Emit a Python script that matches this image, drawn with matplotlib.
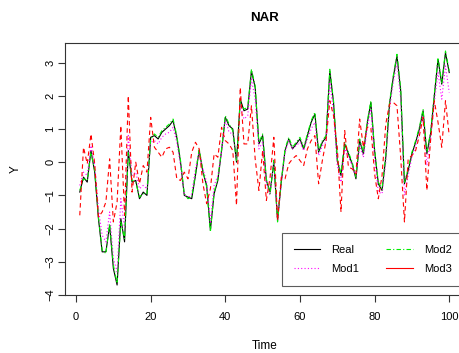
import matplotlib
matplotlib.use("Agg")
import matplotlib.pyplot as plt
from matplotlib.lines import Line2D

plt.rcParams["font.family"] = ["Liberation Sans", "DejaVu Sans"]

time = list(range(1, 101))

real = [-0.9, -0.45, -0.6, 0.35, -0.3, -1.7, -2.7, -2.7, -1.9, -3.2,
        -3.7, -1.7, -2.4, 0.35, -0.6, -0.55, -1.1, -0.9, -1.0, 0.75,
        0.8, 0.7, 0.9, 1.0, 1.1, 1.25, 0.75, 0.0, -1.0, -1.05,
        -1.1, -0.4, 0.36, -0.3, -0.7, -2.05, -0.95, -0.55, 0.35, 1.35,
        1.1, 1.0, 0.0, 1.9, 1.55, 1.6, 2.75, 2.25, 0.55, 0.8,
        -0.55, -0.9, 0.0, -1.75, -0.6, 0.35, 0.7, 0.4, 0.55, 0.7,
        0.4, 0.8, 1.2, 1.45, 0.3, 0.6, 0.75, 2.75, 1.8, 0.05,
        -0.4, 0.55, 0.25, -0.05, -0.5, 0.65, 0.25, 1.15, 1.8, 0.35,
        -0.65, -0.85, 0.15, 1.75, 2.55, 3.2, 2.15, -0.65, -0.25, 0.25,
        0.6, 1.0, 1.55, 0.25, 0.85, 2.0, 3.1, 2.35, 3.3, 2.7]

mod1 = [-0.7, -0.3, -0.4, 0.5, -0.1, -1.4, -2.2, -2.4, -1.5, -2.9,
        -3.3, -1.1, -2.0, 0.8, -0.4, -0.3, -0.8, -0.7, -0.8, 0.6,
        0.65, 0.55, 0.75, 0.85, 0.9, 1.05, 0.6, -0.1, -0.95, -1.1,
        -0.95, -0.2, 0.3, -0.2, -0.6, -1.8, -0.7, -0.4, 0.3, 1.3,
        0.9, 0.85, 0.1, 1.7, 1.3, 1.4, 2.5, 1.9, 0.4, 0.6,
        -0.7, -1.0, 0.1, -1.8, -0.6, 0.3, 0.65, 0.4, 0.5, 0.6,
        0.35, 0.7, 1.0, 1.2, 0.2, 0.5, 0.6, 2.4, 1.5, -0.1,
        -0.6, 0.4, 0.15, -0.1, -0.45, 0.5, 0.15, 1.0, 1.6, 0.1,
        -0.9, -0.95, 0.0, 1.6, 2.4, 3.0, 1.9, -1.0, -0.4, 0.15,
        0.5, 0.9, 1.4, -0.1, 0.7, 1.8, 2.7, 1.9, 2.9, 2.1]

mod2 = [-0.85, -0.5, -0.55, 0.3, -0.25, -1.65, -2.65, -2.75, -1.85, -3.1,
        -3.65, -1.8, -2.3, 0.3, -0.55, -0.6, -1.05, -0.95, -0.95, 0.7,
        0.85, 0.75, 0.95, 1.05, 1.15, 1.3, 0.8, 0.05, -0.95, -1.1,
        -1.05, -0.35, 0.4, -0.25, -0.75, -2.1, -0.9, -0.5, 0.4, 1.4,
        1.15, 0.95, 0.05, 1.85, 1.6, 1.65, 2.8, 2.3, 0.6, 0.85,
        -0.5, -0.95, 0.05, -1.8, -0.55, 0.4, 0.75, 0.45, 0.6, 0.75,
        0.45, 0.85, 1.25, 1.5, 0.35, 0.65, 0.8, 2.8, 1.85, 0.1,
        -0.35, 0.6, 0.3, 0.0, -0.45, 0.7, 0.3, 1.2, 1.85, 0.4,
        -0.6, -0.8, 0.2, 1.8, 2.6, 3.25, 2.2, -0.6, -0.2, 0.3,
        0.65, 1.05, 1.6, 0.3, 0.9, 2.05, 3.15, 2.4, 3.35, 2.75]

mod3 = [-1.6, 0.45, -0.05, 0.85, -0.05, -1.65, -1.5, -1.2, 0.1, -1.8,
        -1.2, 1.1, -1.6, 2.0, -0.9, 0.0, -0.65, -0.1, -0.3, 1.35,
        0.45, 0.3, 0.15, 0.4, 0.45, 0.3, -0.5, -0.55, -0.3, -0.5,
        0.3, 0.6, 0.4, -0.65, -1.25, -0.8, 0.25, 0.15, 1.05, 0.65,
        0.55, 0.35, -1.3, 2.25, 0.55, 0.55, 1.7, 0.1, -0.85, 0.35,
        -1.15, -0.45, 0.75, -1.75, -0.45, -0.5, -0.05, 0.1, 0.2, 0.05,
        -0.1, 0.4, 0.65, 0.8, -0.65, 0.05, 0.65, 1.85, 1.4, 0.45,
        -1.5, 0.95, -0.15, -0.2, -0.35, 1.3, 0.45, 1.05, 1.05, -0.35,
        -1.1, -0.4, 1.15, 1.75, 1.8, 1.7, 0.15, -1.8, 0.1, 0.2,
        0.35, 0.8, 1.35, -0.85, 0.65, 1.85, 1.2, 0.45, 1.85, 0.8]

x_ticks = [0, 20, 40, 60, 80, 100]
y_ticks = [-4, -3, -2, -1, 0, 1, 2, 3]

fig = plt.figure(figsize=(4.6, 3.53), dpi=100)
ax = fig.add_axes([65 / 460, 1 - 295 / 353, 399 / 460, 252 / 353])

lw = 0.8
ax.plot(time, real, color="black", linewidth=lw)
ax.plot(time, mod1, color="magenta", linewidth=lw, linestyle=(0, (1, 2)))
ax.plot(time, mod2, color="#00ee00", linewidth=lw, linestyle=(0, (4, 2, 1, 2)))
ax.plot(time, mod3, color="red", linewidth=lw, linestyle=(0, (4, 3)))

ax.set_xlim(-2.96, 103.96)
ax.set_ylim(-4.0, 3.59)
ax.set_xticks(x_ticks)
ax.set_yticks(y_ticks)
ax.tick_params(labelsize=8, length=5, width=0.8, color="#333333")
ax.tick_params(axis="x", pad=7)
ax.tick_params(axis="y", pad=2)
for lab in ax.get_yticklabels():
    lab.set_rotation(90)
    lab.set_va("center")
for s in ax.spines.values():
    s.set_linewidth(0.8)
    s.set_color("#333333")

ax.set_title("NAR", fontsize=9.5, fontweight="bold", pad=16)
ax.set_xlabel("Time", fontsize=8.5, labelpad=13)
ax.set_ylabel("Y", fontsize=8.5, labelpad=17)

handles = [
    Line2D([], [], color="black", linewidth=lw),
    Line2D([], [], color="magenta", linewidth=lw, linestyle=(0, (1, 2))),
    Line2D([], [], color="#00ee00", linewidth=lw, linestyle=(0, (4, 2, 1, 2))),
    Line2D([], [], color="red", linewidth=lw),
]
leg = ax.legend(handles, ["Real", "Mod1", "Mod2", "Mod3"], ncol=2,
                loc="lower right", bbox_to_anchor=(1.0, 0.036), fontsize=8,
                frameon=True, fancybox=False, borderpad=1.1, labelspacing=0.75,
                handlelength=2.4, handletextpad=1.0, columnspacing=2.4,
                borderaxespad=0.0)
leg.get_frame().set_edgecolor("#333333")
leg.get_frame().set_linewidth(0.8)

fig.savefig("out.png", dpi=100)
